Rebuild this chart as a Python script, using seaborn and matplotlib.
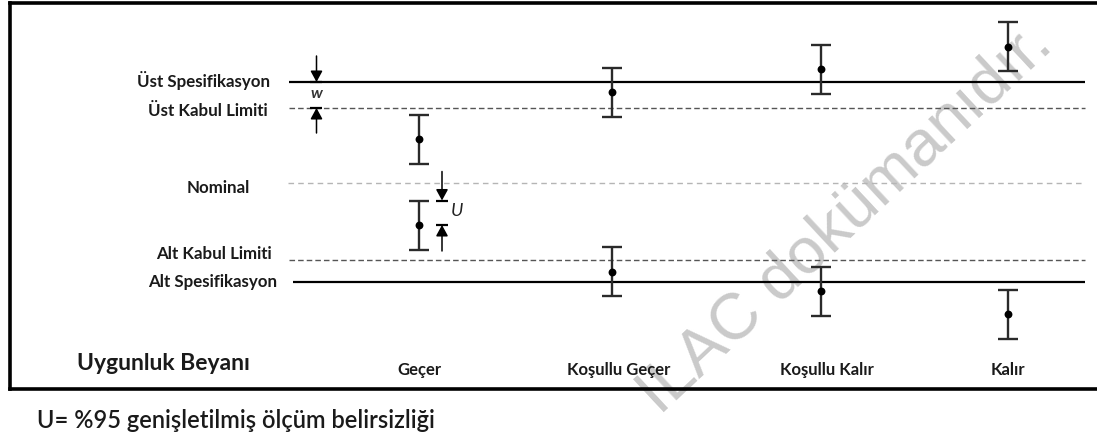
import numpy as np
import pandas as pd
import matplotlib
matplotlib.use("Agg")
import matplotlib.pyplot as plt
import seaborn as sns

# ---------------- data ----------------
categories = ["Geçer", "Koşullu Geçer", "Koşullu Kalır", "Kalır"]
upper_results = [44, 90.7, 113.7, 136.3]     # measured value, upper case
lower_results = [-42, -88.7, -108, -131.3]   # measured value, lower case
expanded_U = 24.5                             # expanded uncertainty U (95 %)

limit_names = ["Üst Spesifikasyon", "Üst Kabul Limiti", "Nominal",
               "Alt Kabul Limiti", "Alt Spesifikasyon"]
limit_values = [101, 75, 0, -77, -98.5]

statement_title = "Uygunluk Beyanı"
caption = "U= %95 genişletilmiş ölçüm belirsizliği"
watermark = "ILAC dokümanıdır."

# ---------------- layout ----------------
W, H, DPI = 1097, 437, 100
cat_pos = [0.0, 0.985, 2.05, 3.0]          # horizontal slot of each category
px_per_x = 196.3
x0_px = 419                                 # pixel of slot 0
line_x = ((289 - x0_px) / px_per_x, (1085 - x0_px) / px_per_x)

sns.set_theme(style="white")
plt.rcParams["font.family"] = ["Lato", "DejaVu Sans"]

fig = plt.figure(figsize=(W / DPI, H / DPI), dpi=DPI)
ax_left, ax_right, ax_top, ax_bot = 10, 1112, 3, 389
ax = fig.add_axes([ax_left / W, (H - ax_bot) / H,
                   (ax_right - ax_left) / W, (ax_bot - ax_top) / H])
ax.set_xlim((ax_left - x0_px) / px_per_x, (ax_right - x0_px) / px_per_x)
ax.set_ylim(183 - ax_bot, 183 - ax_top)
ax.set_xticks([])
ax.set_yticks([])
for s in ax.spines.values():
    s.set_color("black")
    s.set_linewidth(2.6)
    s.set_zorder(6)

# ---------------- watermark (behind everything) ----------------
ax.text(660 / W, 1 - 416 / H, watermark, transform=fig.transFigure,
        ha="left", va="baseline", rotation=43, rotation_mode="anchor",
        fontsize=47, family=["Liberation Sans", "DejaVu Sans"],
        color="#cacaca", zorder=0.5, clip_on=False)

# ---------------- limit lines ----------------
styles = {
    "Üst Spesifikasyon": dict(color="black", lw=1.6, ls="-"),
    "Üst Kabul Limiti": dict(color="#555555", lw=1.0, ls=(0, (4, 2.2))),
    "Nominal": dict(color="#b5b5b5", lw=1.0, ls=(0, (4, 3))),
    "Alt Kabul Limiti": dict(color="#555555", lw=1.0, ls=(0, (4, 2.2))),
    "Alt Spesifikasyon": dict(color="black", lw=1.6, ls="-"),
}
start_shift = {"Alt Spesifikasyon": 4 / px_per_x, "Nominal": -1 / px_per_x}
for name, val in zip(limit_names, limit_values):
    st = styles[name]
    ax.hlines(val, line_x[0] + start_shift.get(name, 0), line_x[1],
              colors=st["color"], linewidth=st["lw"], linestyles=[st["ls"]],
              zorder=2)

# labels of limits (right aligned, slight pixel offsets)
label_right_px = {"Üst Spesifikasyon": 270, "Üst Kabul Limiti": 268,
                  "Nominal": 250, "Alt Kabul Limiti": 272,
                  "Alt Spesifikasyon": 277}
label_dy = {"Üst Spesifikasyon": 1, "Üst Kabul Limiti": -2.5, "Nominal": -5,
            "Alt Kabul Limiti": 6, "Alt Spesifikasyon": -0.5}
for name, val in zip(limit_names, limit_values):
    ax.text((label_right_px[name] - x0_px) / px_per_x, val + label_dy[name],
            name, ha="right", va="center", fontsize=12.2, fontweight="bold",
            color="#1a1a1a", zorder=5)

# ---------------- results ----------------
df = pd.DataFrame({
    "category": categories * 2,
    "x": cat_pos * 2,
    "value": upper_results + lower_results,
})
ax.errorbar(df["x"], df["value"], yerr=expanded_U, fmt="none",
            ecolor="#2a2a2a", elinewidth=1.7, capsize=7, capthick=1.7,
            zorder=3)
sns.scatterplot(data=df, x="x", y="value", ax=ax, color="black", s=32,
                edgecolor="black", linewidth=0, zorder=4, legend=False)
ax.set_xlabel("")
ax.set_ylabel("")

# category labels
for c, xp in zip(categories, cat_pos):
    dx = 6 / px_per_x if "Koşullu" in c else 0
    ax.text(xp + dx, 183 - 370, c, ha="center", va="center", fontsize=12,
            fontweight="bold", color="#1a1a1a", zorder=5)
ax.text((77 - x0_px) / px_per_x, 183 - 364, statement_title, ha="left",
        va="center", fontsize=16.5, fontweight="bold", color="#1a1a1a",
        zorder=5)

# ---------------- w and U arrows ----------------
def arrow(x, tip, tail):
    ax.annotate("", xy=(x, tip), xytext=(x, tail), zorder=4,
                arrowprops=dict(arrowstyle="-|>,head_length=0.55,head_width=0.3",
                                color="black", lw=1.1, shrinkA=0, shrinkB=0))
    ax.plot([x], [tip], marker="_", markersize=9, mew=1.6, color="black",
            zorder=4)

w_x = (316.5 - x0_px) / px_per_x
usl, ual = limit_values[0], limit_values[1]
arrow(w_x, usl, usl + 26)
arrow(w_x, ual, ual - 25)
ax.text(w_x, (usl + ual) / 2 + 1.5, "w", ha="center", va="center",
        fontsize=11.5, fontstyle="italic", fontweight="bold", color="#333333",
        zorder=5)

u_x = (442 - x0_px) / px_per_x
g_low = lower_results[0]
arrow(u_x, g_low + expanded_U, g_low + expanded_U + 29)
arrow(u_x, g_low, g_low - 26)
ax.text(u_x + 9 / px_per_x, g_low + expanded_U / 2 + 2, "U", ha="left",
        va="center", fontsize=13, fontstyle="italic", color="#222222",
        zorder=5)

# ---------------- caption ----------------
fig.text(37 / W, 1 - 420 / H, caption, ha="left", va="center", fontsize=17,
         fontweight="semibold", color="#1a1a1a")

fig.savefig("out.png", dpi=DPI)
